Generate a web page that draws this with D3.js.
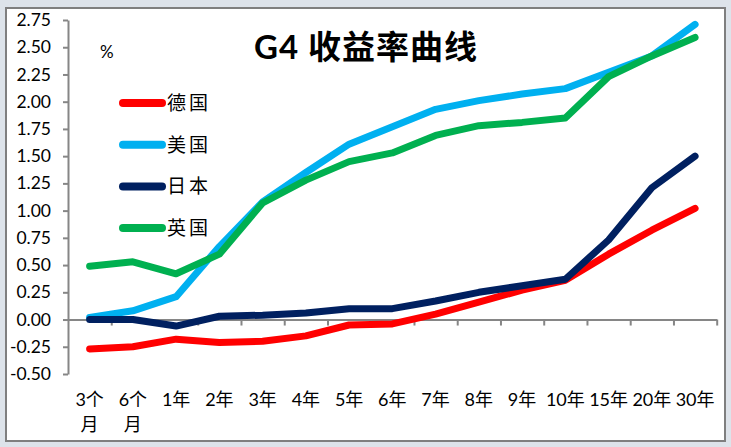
<!DOCTYPE html>
<html>
<head>
<meta charset="utf-8">
<script src="https://cdn.jsdelivr.net/npm/d3@7/dist/d3.min.js"></script>
<style>
  html, body { margin: 0; padding: 0; background: #dde3ea; }
  svg { display: block; }
  text { font-family: Lato, "Noto Sans CJK SC", sans-serif; fill: #000; }
</style>
</head>
<body>
<div id="chart"></div>
<script>
// tenors and tick labels
const categories = ['3个月', '6个月', '1年', '2年', '3年', '4年', '5年', '6年', '7年', '8年', '9年', '10年', '15年', '20年', '30年'];
const yTicks = [-0.5, -0.25, 0, 0.25, 0.5, 0.75, 1, 1.25, 1.5, 1.75, 2, 2.25, 2.5, 2.75];

// yields, %
const germany = [-0.27, -0.25, -0.18, -0.21, -0.20, -0.15, -0.05, -0.04, 0.05, 0.16, 0.27, 0.36, 0.60, 0.82, 1.02];
const usa     = [0.02, 0.08, 0.21, 0.67, 1.08, 1.35, 1.61, 1.77, 1.93, 2.01, 2.07, 2.12, 2.27, 2.42, 2.71];
const japan   = [0.00, 0.00, -0.06, 0.03, 0.04, 0.06, 0.10, 0.10, 0.17, 0.25, 0.31, 0.37, 0.73, 1.21, 1.50];
const uk      = [0.49, 0.53, 0.42, 0.60, 1.07, 1.28, 1.45, 1.53, 1.69, 1.78, 1.81, 1.85, 2.23, 2.42, 2.59];

const seriesNames = ['德国', '美国', '日本', '英国'];
const seriesColors = ['#ff0000', '#00b0f0', '#002060', '#00b050'];
const seriesValues = [germany, usa, japan, uk];

const width = 731, height = 447;
const plot = {left: 68, right: 716.7, top: 20, bottom: 374};

const svg = d3.select('#chart').append('svg')
  .attr('width', width)
  .attr('height', height);

// white chart area with grey frame
svg.append('rect')
  .attr('x', 6).attr('y', 8)
  .attr('width', 719).attr('height', 433)
  .attr('fill', '#fff')
  .attr('stroke', '#7f7f7f')
  .attr('stroke-width', 2);

const x = d3.scaleBand()
  .domain(categories)
  .range([plot.left, plot.right])
  .padding(0);

// edges of the bands, for the tick marks
const xEdge = d3.scaleLinear()
  .domain([0, categories.length])
  .range([plot.left, plot.right]);

const y = d3.scaleLinear()
  .domain([-0.5, 2.75])
  .range([plot.bottom, plot.top]);

const axisColor = '#868686';

// y axis
const yAxis = svg.append('g')
  .attr('transform', `translate(${plot.left},0)`)
  .call(d3.axisLeft(y)
    .tickValues(yTicks)
    .tickSize(5)
    .tickSizeOuter(0)
    .tickPadding(12)
    .tickFormat(d => d.toFixed(2)));
yAxis.select('.domain').attr('stroke', axisColor).attr('stroke-width', 2);
yAxis.selectAll('.tick line').attr('stroke', axisColor).attr('stroke-width', 2);
yAxis.selectAll('.tick text')
  .attr('font-size', 17.5)
  .attr('font-family', 'Lato, "Noto Sans CJK SC", sans-serif')
  .attr('fill', '#000');

// x axis sits on zero
const xAxis = svg.append('g')
  .attr('transform', `translate(0,${y(0)})`)
  .call(d3.axisBottom(xEdge)
    .tickValues(d3.range(1, categories.length + 1))
    .tickSize(6)
    .tickSizeOuter(0)
    .tickFormat(''));
xAxis.select('.domain').attr('stroke', axisColor).attr('stroke-width', 2);
xAxis.selectAll('.tick line').attr('stroke', axisColor).attr('stroke-width', 2);

// category labels, "x个月" wraps onto two lines
const labels = svg.append('g').selectAll('text')
  .data(categories)
  .enter().append('text')
    .attr('text-anchor', 'middle')
    .attr('font-size', 18)
    .attr('y', 406);
labels.each(function(d) {
  const t = d3.select(this);
  const lines = d.endsWith('个月') ? [d.slice(0, -1), '月'] : [d];
  lines.forEach((ln, i) => {
    t.append('tspan')
      .attr('x', x(d) + x.bandwidth() / 2)
      .attr('dy', i === 0 ? 0 : 25)
      .text(ln);
  });
});

// lines
const line = d3.line()
  .x((d, i) => x(categories[i]) + x.bandwidth() / 2)
  .y(d => y(d));

svg.append('g').selectAll('path')
  .data(seriesValues)
  .enter().append('path')
    .attr('d', line)
    .attr('fill', 'none')
    .attr('stroke', (d, i) => seriesColors[i])
    .attr('stroke-width', 7)
    .attr('stroke-linecap', 'round')
    .attr('stroke-linejoin', 'round');

// title and unit
svg.append('text')
  .attr('x', 366)
  .attr('y', 59)
  .attr('text-anchor', 'middle')
  .attr('font-size', 33)
  .attr('font-weight', 700)
  .attr('letter-spacing', 1)
  .text('G4 收益率曲线');

svg.append('text')
  .attr('x', 100)
  .attr('y', 58)
  .attr('font-size', 17)
  .text('%');

// legend
const legend = svg.append('g').selectAll('g')
  .data(seriesNames)
  .enter().append('g')
    .attr('transform', (d, i) => `translate(0,${103 + i * 41.7})`);

legend.append('line')
  .attr('x1', 123).attr('x2', 162)
  .attr('y1', 0).attr('y2', 0)
  .attr('stroke', (d, i) => seriesColors[i])
  .attr('stroke-width', 8)
  .attr('stroke-linecap', 'round');

legend.append('text')
  .attr('x', 167)
  .attr('y', 7)
  .attr('font-size', 19)
  .attr('letter-spacing', 3)
  .text(d => d);
</script>
</body>
</html>
